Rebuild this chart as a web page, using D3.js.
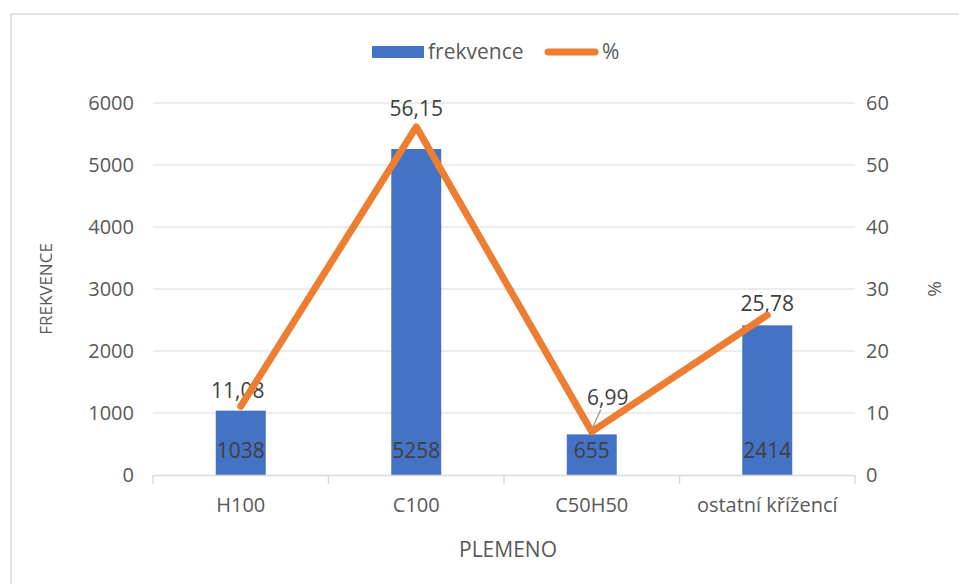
<!DOCTYPE html>
<html>
<head>
<meta charset="utf-8">
<script src="https://cdn.jsdelivr.net/npm/d3@7"></script>
<style>
body { margin: 0; background: #fff; }
text { font-family: "Open Sans", "Liberation Sans", sans-serif; fill: #595959; }
</style>
</head>
<body>
<svg id="chart" width="959" height="584"></svg>
<script>
// data
var categories = ["H100", "C100", "C50H50", "ostatní křížencí"];
var frekvence = [1038, 5258, 655, 2414];
var procenta = [11.08, 56.15, 6.99, 25.78];
var leftTicks = [0, 1000, 2000, 3000, 4000, 5000, 6000];
var rightTicks = [0, 10, 20, 30, 40, 50, 60];

var blue = "#4472C4", orange = "#ED7D31", grid = "#d9d9d9";

var svg = d3.select("#chart");

// outer frame of the chart object
svg.append("rect")
	.attr("x", 11).attr("y", 14)
	.attr("width", 1000).attr("height", 700)
	.attr("fill", "none")
	.attr("stroke", "#d9d9d9")
	.attr("stroke-width", 1.5);

var plotL = 153, plotR = 855, plotT = 103, plotB = 475;

var x = d3.scaleBand().domain(categories).range([plotL, plotR]).paddingInner(0).paddingOuter(0);
var yL = d3.scaleLinear().domain([0, 6000]).range([plotB, plotT]);
var yR = d3.scaleLinear().domain([0, 60]).range([plotB, plotT]);

// gridlines
svg.append("g").selectAll("line")
	.data(leftTicks.slice(1))
	.enter().append("line")
	.attr("x1", plotL).attr("x2", plotR)
	.attr("y1", function(d){ return yL(d); })
	.attr("y2", function(d){ return yL(d); })
	.attr("stroke", grid).attr("stroke-width", 1);

// left axis labels
var leftAxis = svg.append("g")
	.attr("transform", "translate(" + (plotL - 19) + ",0)")
	.call(d3.axisLeft(yL).tickValues(leftTicks).tickFormat(d3.format("d")).tickSize(0).tickPadding(0));
leftAxis.select(".domain").remove();
leftAxis.selectAll("text").style("font-size", "20px").attr("fill", "#595959");

// right axis labels
var rightAxis = svg.append("g")
	.attr("transform", "translate(" + (plotR + 11) + ",0)")
	.call(d3.axisRight(yR).tickValues(rightTicks).tickSize(0).tickPadding(0));
rightAxis.select(".domain").remove();
rightAxis.selectAll("text").style("font-size", "20px").attr("fill", "#595959");

// bars
var barW = 50;
svg.append("g").selectAll("rect")
	.data(frekvence)
	.enter().append("rect")
	.attr("x", function(d, i){ return x(categories[i]) + x.bandwidth()/2 - barW/2; })
	.attr("y", function(d){ return yL(d); })
	.attr("width", barW)
	.attr("height", function(d){ return plotB - yL(d); })
	.attr("fill", blue);

// x axis
var xAxis = svg.append("g")
	.attr("transform", "translate(0," + plotB + ")")
	.call(d3.axisBottom(x).tickSize(0).tickPadding(23));
xAxis.select(".domain").remove();
xAxis.selectAll("text").style("font-size", "20px").attr("fill", "#595959");
svg.append("line")
	.attr("x1", plotL).attr("x2", plotR)
	.attr("y1", plotB + 0.5).attr("y2", plotB + 0.5)
	.attr("stroke", grid).attr("stroke-width", 1.5);
// category dividers
var tickXs = categories.map(function(c){ return x(c); }).concat([plotR]);
svg.append("g").selectAll("line")
	.data(tickXs)
	.enter().append("line")
	.attr("x1", function(d){ return d; }).attr("x2", function(d){ return d; })
	.attr("y1", plotB).attr("y2", plotB + 9)
	.attr("stroke", grid).attr("stroke-width", 1.5);

// bar value labels
svg.append("g").selectAll("text")
	.data(frekvence)
	.enter().append("text")
	.attr("x", function(d, i){ return x(categories[i]) + x.bandwidth()/2; })
	.attr("y", plotB - 17)
	.attr("text-anchor", "middle")
	.attr("font-size", "21px")
	.style("fill", "#404040")
	.text(function(d){ return d; });

// line labels (6,99 is pushed aside with a leader line)
var cx = function(i){ return x(categories[i]) + x.bandwidth()/2; };
var fmt = function(v){ return v.toFixed(2).replace(".", ","); };
var labelOffsets = [[-3, -8], [0, -11], [16, -27], [0, -4]];
svg.append("line")
	.attr("x1", cx(2)).attr("y1", yR(procenta[2]) - 2)
	.attr("x2", cx(2) + 9).attr("y2", yR(procenta[2]) - 22)
	.attr("stroke", "#a6a6a6").attr("stroke-width", 1.5);
svg.append("g").selectAll("text")
	.data(procenta)
	.enter().append("text")
	.attr("x", function(d, i){ return cx(i) + labelOffsets[i][0]; })
	.attr("y", function(d, i){ return yR(d) + labelOffsets[i][1]; })
	.attr("text-anchor", "middle")
	.attr("font-size", "21px")
	.style("fill", "#404040")
	.text(fmt);

// line series, drawn over its labels as in the original
var line = d3.line()
	.x(function(d, i){ return cx(i); })
	.y(function(d){ return yR(d); });
svg.append("path")
	.datum(procenta)
	.attr("d", line)
	.attr("fill", "none")
	.attr("stroke", orange)
	.attr("stroke-width", 7)
	.attr("stroke-linejoin", "round")
	.attr("stroke-linecap", "round");

// axis titles
svg.append("text")
	.attr("transform", "translate(52,289) rotate(-90)")
	.attr("text-anchor", "middle")
	.attr("font-size", "17px")
	.text("FREKVENCE");
svg.append("text")
	.attr("transform", "translate(941,289) rotate(-90)")
	.attr("text-anchor", "middle")
	.attr("font-size", "19px")
	.text("%");
svg.append("text")
	.attr("x", 508).attr("y", 557)
	.attr("text-anchor", "middle")
	.attr("font-size", "21px")
	.text("PLEMENO");

// legend
var legend = svg.append("g");
legend.append("rect")
	.attr("x", 372).attr("y", 46).attr("width", 52).attr("height", 12)
	.attr("fill", blue);
legend.append("text")
	.attr("x", 428).attr("y", 59)
	.attr("font-size", "21px")
	.text("frekvence");
legend.append("line")
	.attr("x1", 548).attr("x2", 595).attr("y1", 52).attr("y2", 52)
	.attr("stroke", orange).attr("stroke-width", 7)
	.attr("stroke-linecap", "round");
legend.append("text")
	.attr("x", 602).attr("y", 59)
	.attr("font-size", "21px")
	.text("%");
</script>
</body>
</html>
